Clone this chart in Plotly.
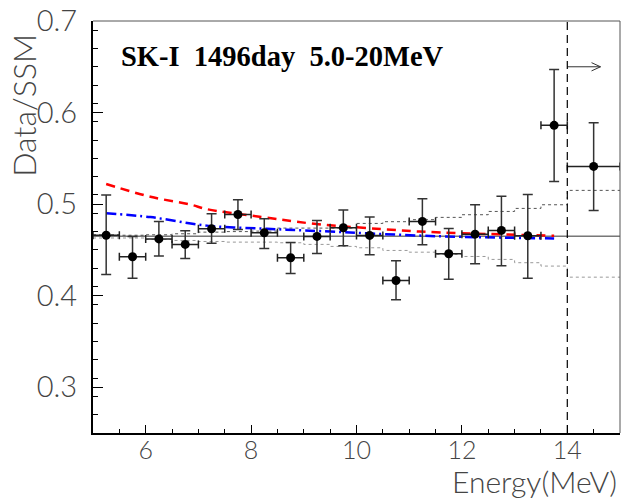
import plotly.graph_objects as go

# ---- data ----
energy = [5.25, 5.75, 6.25, 6.75, 7.25, 7.75, 8.25, 8.75, 9.25, 9.75,
          10.25, 10.75, 11.25, 11.75, 12.25, 12.75, 13.25, 13.75, 14.5]
ratio = [0.466, 0.4425, 0.462, 0.456, 0.473, 0.4887, 0.4687, 0.4414, 0.4647, 0.4742,
         0.4658, 0.4166, 0.4811, 0.4458, 0.4672, 0.4713, 0.4655, 0.586, 0.5412]
err_up = [0.044, 0.022, 0.019, 0.015, 0.0164, 0.0161, 0.0153, 0.0167, 0.0175, 0.0193,
          0.020, 0.0215, 0.0248, 0.0276, 0.0321, 0.0374, 0.0451, 0.0609, 0.0478]
err_dn = [0.043, 0.0234, 0.0186, 0.0153, 0.0157, 0.0164, 0.0171, 0.0171, 0.0186, 0.0197,
          0.0211, 0.0211, 0.0255, 0.0278, 0.0323, 0.0386, 0.0464, 0.0612, 0.0481]
bin_halfwidth = [0.25] * 18 + [0.5]

# flat reference line
flat_x = [5.0, 15.0]
flat_y = [0.465, 0.465]

# energy-correlated systematic band (step edges)
band_edges = [5.0, 5.5, 6.0, 6.5, 7.0, 7.5, 8.0, 8.5, 9.0, 9.5, 10.0,
              10.5, 11.0, 11.5, 12.0, 12.5, 13.0, 13.5, 14.0, 15.0]
band_upper = [0.4665, 0.466, 0.4665, 0.4676, 0.4694, 0.470, 0.4705, 0.4738, 0.4738, 0.4738,
              0.4789, 0.4808, 0.483, 0.4855, 0.4884, 0.492, 0.4953, 0.4993, 0.515, 0.515]
band_lower = [0.463, 0.463, 0.4614, 0.4603, 0.4592, 0.4585, 0.4585, 0.4578, 0.456, 0.4538,
              0.4523, 0.4494, 0.4475, 0.445, 0.4428, 0.4396, 0.436, 0.4323, 0.4202, 0.4202]

# model expectations
red_x = [5.25, 6.09, 6.85, 7.16, 8.2, 9.12, 10.83, 11.6, 13.75]
red_y = [0.522, 0.508, 0.4995, 0.4945, 0.486, 0.479, 0.4713, 0.469, 0.4655]
blue_x = [5.25, 6.09, 7.16, 8.3, 9.31, 11.5, 13.75]
blue_y = [0.490, 0.4858, 0.4765, 0.4731, 0.4705, 0.465, 0.4625]

threshold = 14.0
arrow_x = [14.0, 14.63]
arrow_y = [0.65, 0.65]
head_x = [14.46, 14.63, 14.46]
head_y = [0.6545, 0.65, 0.6455]

title_text = "SK-I\u00a0\u00a01496day\u00a0\u00a05.0-20MeV"

fig = go.Figure()

for up, col in [(band_upper, "#555555"), (band_lower, "#999999")]:
    fig.add_trace(go.Scatter(x=band_edges, y=up, mode="lines", line_shape="hv",
                             line=dict(color=col, width=1, dash="dot"),
                             hoverinfo="skip", showlegend=False))

fig.add_trace(go.Scatter(x=flat_x, y=flat_y, mode="lines",
                         line=dict(color="#333333", width=1), showlegend=False))

fig.add_trace(go.Scatter(x=red_x, y=red_y, mode="lines", line_shape="spline",
                         line=dict(color="#ff0000", width=2.5, dash="9px,6px"),
                         showlegend=False))
fig.add_trace(go.Scatter(x=blue_x, y=blue_y, mode="lines", line_shape="spline",
                         line=dict(color="#0000ff", width=2.5, dash="10px,4px,2px,4px"),
                         showlegend=False))

fig.add_trace(go.Scatter(
    x=energy, y=ratio, mode="markers",
    marker=dict(color="black", size=9),
    error_y=dict(type="data", array=err_up, arrayminus=err_dn, symmetric=False,
                 color="#333333", thickness=1.5, width=5),
    error_x=dict(type="data", array=bin_halfwidth, color="#222222", thickness=1.5, width=4),
    showlegend=False))

fig.add_trace(go.Scatter(x=arrow_x, y=arrow_y, mode="lines",
                         line=dict(color="#333333", width=1), showlegend=False))
fig.add_trace(go.Scatter(x=head_x, y=head_y, mode="lines",
                         line=dict(color="#333333", width=1), showlegend=False))

# threshold dashed line
fig.add_shape(type="line", xref="x", yref="paper", x0=threshold, x1=threshold, y0=0, y1=1,
              line=dict(color="black", width=1.2, dash="8px,5px"))
# frame top/right
fig.add_shape(type="line", xref="paper", yref="paper", x0=0, x1=1, y0=1, y1=1,
              line=dict(color="#555555", width=1))
fig.add_shape(type="line", xref="paper", yref="paper", x0=1, x1=1, y0=0, y1=1,
              line=dict(color="#555555", width=1))

axis_font = dict(family="Lato", color="#444444", weight=300)

fig.update_xaxes(range=[5, 15], tickmode="array", tickvals=[6, 8, 10, 12, 14],
                 ticks="inside", ticklen=8, tickwidth=1, tickcolor="black",
                 minor=dict(ticks="inside", ticklen=4, dtick=0.5, tick0=5, tickcolor="black"),
                 showline=True, linewidth=2, linecolor="black", showgrid=False, zeroline=False,
                 tickfont=dict(size=25, **axis_font), ticklabelstandoff=-6)
fig.update_yaxes(range=[0.25, 0.7], tickmode="array", tickvals=[0.3, 0.4, 0.5, 0.6, 0.7],
                 ticktext=["0.3", "0.4", "0.5", "0.6", "0.7"],
                 ticks="inside", ticklen=10, tickwidth=1, tickcolor="black",
                 minor=dict(ticks="inside", ticklen=5, dtick=0.02, tick0=0.25, tickcolor="black"),
                 showline=True, linewidth=2, linecolor="black", showgrid=False, zeroline=False,
                 tickfont=dict(size=29, **axis_font), ticklabelstandoff=8)

fig.add_annotation(text=title_text, xref="paper", yref="paper", x=0.050, y=0.913,
                   xanchor="left", yanchor="middle", showarrow=False,
                   font=dict(family="Liberation Serif", size=28.5, color="black", weight="bold"))
fig.add_annotation(text="Energy(MeV)", xref="paper", yref="paper", x=0.9985, y=-0.068,
                   xanchor="right", yanchor="top", showarrow=False,
                   font=dict(size=30, **axis_font))
fig.add_annotation(text="Data/SSM", xref="paper", yref="paper", x=-0.131, y=0.975,
                   xanchor="center", yanchor="top", textangle=-90, showarrow=False,
                   font=dict(size=32, **axis_font))

fig.update_layout(width=621, height=500, margin=dict(l=93, r=1, t=21, b=67),
                  plot_bgcolor="white", paper_bgcolor="white")

fig.write_html("out.html", config={"displayModeBar": False},
               post_script="document.body.style.margin='0';document.body.style.padding='0';")
